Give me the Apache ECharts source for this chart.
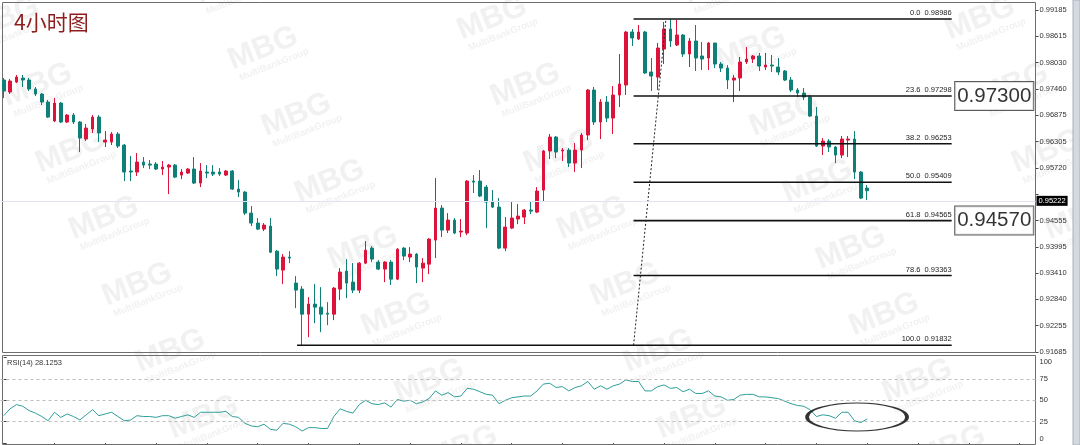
<!DOCTYPE html>
<html>
<head>
<meta charset="utf-8">
<script src="https://cdn.jsdelivr.net/npm/echarts@6/dist/echarts.min.js"></script>
<style>
html,body{margin:0;padding:0;background:#ffffff;}
#chart{width:1080px;height:445px;}
</style>
</head>
<body>
<div id="chart"></div>
<script>
// ---------- data ----------
const title = '4小时图';
const opens = [0.97649,0.97386,0.97605,0.97693,0.97649,0.97452,0.97342,0.97166,0.96750,0.97144,
0.96728,0.96881,0.96728,0.96355,0.96574,0.96837,0.96289,0.96289,0.96465,0.96223,
0.95653,0.95631,0.95850,0.95806,0.95806,0.95697,0.95740,0.95784,0.95565,0.95609,
0.95697,0.95390,0.95631,0.95631,0.95631,0.95565,0.95653,0.95258,0.95192,0.94731,
0.94512,0.94380,0.94446,0.93897,0.93481,0.93766,0.93196,0.93064,0.92515,0.92735,
0.92669,0.92537,0.92515,0.93064,0.93459,0.93218,0.93042,0.93634,0.93963,0.93656,
0.93503,0.93656,0.93283,0.93963,0.93766,0.93832,0.93525,0.93612,0.94139,0.94841,
0.94358,0.94578,0.94315,0.94293,0.95433,0.95433,0.95302,0.94973,0.94863,0.93963,
0.94402,0.94600,0.94643,0.94797,0.94753,0.95236,0.96092,0.96399,0.96092,0.96114,
0.95828,0.96114,0.96443,0.97430,0.96728,0.97166,0.96815,0.97320,0.97540,0.98702,
0.98549,0.98702,0.97825,0.97715,0.98329,0.98768,0.98417,0.98637,0.98220,0.98505,
0.98176,0.98132,0.98461,0.98000,0.97912,0.97649,0.97693,0.98044,0.98110,0.98176,
0.97934,0.97978,0.97934,0.97847,0.97649,0.97430,0.97364,0.97276,0.96859,0.96201,
0.96311,0.96180,0.96004,0.96333,0.96355,0.95631,0.95280];
const closes = [0.97408,0.97627,0.97715,0.97649,0.97452,0.97342,0.97166,0.96837,0.97144,0.96728,
0.96881,0.96728,0.96377,0.96596,0.96837,0.96487,0.96333,0.96465,0.96201,0.95631,
0.95631,0.95850,0.95784,0.95784,0.95697,0.95740,0.95784,0.95521,0.95631,0.95697,
0.95390,0.95653,0.95609,0.95587,0.95587,0.95653,0.95258,0.95192,0.94731,0.94512,
0.94380,0.94468,0.93875,0.93503,0.93766,0.93744,0.93042,0.92515,0.92735,0.92669,
0.92515,0.92515,0.93086,0.93437,0.93196,0.93042,0.93634,0.93919,0.93722,0.93503,
0.93656,0.93283,0.93941,0.93788,0.93832,0.93547,0.93634,0.94161,0.94841,0.94358,
0.94578,0.94293,0.94336,0.95433,0.95411,0.95104,0.94973,0.94863,0.93963,0.94424,
0.94622,0.94665,0.94797,0.94775,0.95214,0.96092,0.96399,0.96070,0.96114,0.95828,
0.96114,0.96443,0.97430,0.96728,0.97166,0.96815,0.97320,0.97562,0.98702,0.98571,
0.98702,0.97803,0.97737,0.98351,0.98768,0.98505,0.98637,0.98220,0.98505,0.98132,
0.98110,0.98461,0.98000,0.97912,0.97649,0.97693,0.98044,0.98110,0.98176,0.97956,
0.97978,0.97956,0.97825,0.97649,0.97430,0.97364,0.97276,0.96859,0.96201,0.96311,
0.96180,0.96004,0.96355,0.96355,0.95631,0.95060,0.95222];
const highs = [0.97693,0.97671,0.97759,0.97759,0.97693,0.97496,0.97364,0.97210,0.97254,0.97166,
0.96903,0.96925,0.96750,0.96684,0.96881,0.96881,0.96530,0.96508,0.96508,0.96245,
0.95982,0.96048,0.95960,0.95894,0.95850,0.95872,0.95806,0.95806,0.95697,0.95718,
0.95960,0.95828,0.95784,0.95784,0.95718,0.95675,0.95675,0.95455,0.95214,0.94885,
0.94622,0.94512,0.94622,0.93919,0.93832,0.93897,0.93349,0.93130,0.92888,0.93174,
0.93108,0.92778,0.93108,0.93525,0.93722,0.93634,0.93656,0.94117,0.94007,0.93700,
0.93678,0.93700,0.93963,0.93985,0.93985,0.93854,0.93744,0.94183,0.95499,0.94907,
0.94731,0.94622,0.94600,0.95455,0.95565,0.95675,0.95346,0.95236,0.95060,0.94643,
0.94973,0.94929,0.94819,0.94973,0.95302,0.96114,0.96465,0.96421,0.96158,0.96158,
0.96267,0.96487,0.97452,0.97496,0.97232,0.97298,0.97518,0.98220,0.98724,0.98768,
0.98856,0.98724,0.98132,0.98461,0.98922,0.98986,0.98966,0.98659,0.98571,0.98856,
0.98483,0.98483,0.98461,0.98044,0.97978,0.97759,0.98154,0.98373,0.98198,0.98242,
0.98242,0.98198,0.98132,0.97869,0.97715,0.97474,0.97474,0.97320,0.97057,0.96377,
0.96355,0.96201,0.96421,0.96421,0.96530,0.95653,0.95346];
const lows = [0.97254,0.97342,0.97583,0.97496,0.97408,0.97298,0.97101,0.96815,0.96728,0.96706,
0.96706,0.96684,0.96070,0.96311,0.96487,0.96289,0.96180,0.96223,0.96158,0.95433,
0.95433,0.95543,0.95718,0.95697,0.95675,0.95565,0.95148,0.95499,0.95477,0.95587,
0.95368,0.95302,0.95499,0.95543,0.95543,0.95543,0.95236,0.95082,0.94687,0.94446,
0.94358,0.94336,0.93853,0.93349,0.93174,0.93634,0.92647,0.91832,0.92011,0.92318,
0.92120,0.92274,0.92384,0.92822,0.92866,0.92976,0.92976,0.93612,0.93656,0.93481,
0.93218,0.93152,0.93261,0.93700,0.93656,0.93196,0.93218,0.93393,0.93744,0.94205,
0.94293,0.94271,0.94205,0.94249,0.95170,0.95082,0.94402,0.94841,0.93941,0.93897,
0.94380,0.94490,0.94490,0.94709,0.94731,0.94994,0.95916,0.95938,0.95872,0.95740,
0.95631,0.95718,0.96333,0.96662,0.96355,0.96728,0.96465,0.97057,0.97320,0.98395,
0.98527,0.97781,0.97408,0.97430,0.98000,0.98373,0.98395,0.98154,0.97934,0.97847,
0.97869,0.97869,0.97912,0.97825,0.97452,0.97166,0.97408,0.98000,0.98022,0.97847,
0.97869,0.97825,0.97759,0.97627,0.97386,0.97276,0.97210,0.96837,0.96180,0.96004,
0.96070,0.95828,0.95938,0.95960,0.95477,0.95038,0.95016];
const rsiValues = [32,40,45,43,38,35,31,26,36,30,
34,31,27,33,39,32,34,36,31,26,
27,32,31,31,30,32,32,29,31,33,
30,36,36,36,36,37,31,30,23,20,
19,22,16,15,23,22,19,14,18,18,
17,17,31,40,37,35,45,50,46,45,
47,42,51,49,50,46,48,52,61,56,
59,54,55,64,63,60,57,56,46,50,
53,54,55,55,61,69,70,65,66,61,
65,67,72,63,67,63,67,69,74,72,
72,61,61,66,68,64,65,60,63,58,
58,61,55,54,50,51,56,57,57,54,
54,53,52,49,46,44,43,39,31,33,
32,29,36,36,26,24,28.1253];
const totalSlots = 163;                       // bars + empty space on the right
const categories = Array.from({length: totalSlots}, (_, i) => String(i + 1));
const priceTickLabels = ['0.99185','0.98615','0.98030','0.97460','0.96875','0.96305','0.95720',
  '','0.94555','0.93995','0.93410','0.92840','0.92255','0.91685'];
const priceMin = 0.91685, priceMax = 0.99185;
const fibLevels = [0.0, 23.6, 38.2, 50.0, 61.8, 78.6, 100.0];
const fibPrices = [0.98986, 0.97298, 0.96253, 0.95409, 0.94565, 0.93363, 0.91832];
const fibStartBar = [99.2, 99.2, 99.2, 99.2, 99.2, 99.2, 46.2];
const fibEndBar = 149.3;
const trendFrom = [99.2, 0.91832], trendTo = [104.3, 0.98986];
const noteTexts = ['0.97300', '0.94570'];
const notePrices = [0.97300, 0.94570];
const noteBar = 156;
const currentPrice = 0.95222;
const rsiTitle = 'RSI(14) 28.1253';
const rsiLevels = [25, 50, 75];
const rsiMark = [134.4, 30.4];
const watermarkMain = 'MBG';
const watermarkSub = 'MultiBankGroup';

// ---------- chart ----------
const UP = '#dc143c', DOWN = '#0e8077';
const FONT = 'Liberation Sans';
const candleData = opens.map((o, i) => [o, closes[i], lows[i], highs[i]]);
const fibData = fibLevels.map((lv, i) => [fibStartBar[i], fibPrices[i], fibEndBar, lv]);

const chart = echarts.init(document.getElementById('chart'), null, {renderer: 'canvas', width: 1080, height: 445});

// faint diagonal brand watermark tiles (decoration)
const wm = [];
for (let k = 0; k < 5; k++) {
  const phase = (k % 2 === 0) ? 18 : 48;
  for (let y = phase - 66; y < 470; y += 66.5) {
    const x = -5 + 244 * k + y / 2;
    if (x < -40 || x > 1100) continue;
    wm.push({type: 'group', x: x, y: y, rotation: 0.38, silent: true, z: 20, children: [
      {type: 'text', style: {text: watermarkMain, x: 0, y: 0, align: 'center', verticalAlign: 'middle',
        font: 'bold 31px "Liberation Sans"', fill: 'rgba(210,210,210,0.32)'}},
      {type: 'text', style: {text: watermarkSub, x: 4, y: 19, align: 'center', verticalAlign: 'middle',
        font: 'bold 9.5px "Liberation Sans"', fill: 'rgba(210,210,210,0.32)'}}
    ]});
  }
}

const gridL = 0.5, gridW = 1035;
const option = {
  animation: false,
  backgroundColor: '#ffffff',
  textStyle: {fontFamily: FONT},
  grid: [
    {left: gridL, top: 10, width: gridW, height: 342},
    {left: gridL, top: 357.6, width: gridW, height: 85.4}
  ],
  xAxis: [
    {type: 'category', gridIndex: 0, data: categories, boundaryGap: true, show: false},
    {type: 'value', gridIndex: 0, min: -0.5, max: totalSlots - 0.5, show: false},
    {type: 'category', gridIndex: 1, data: categories, boundaryGap: true,
      axisLine: {show: false}, axisLabel: {show: false}, splitLine: {show: false},
      axisTick: {show: true, alignWithLabel: true, interval: 7, length: 3, lineStyle: {color: '#555'}}},
    {type: 'value', gridIndex: 1, min: -0.5, max: totalSlots - 0.5, show: false}
  ],
  yAxis: [
    {type: 'value', gridIndex: 0, min: priceMin, max: priceMax, show: false, scale: true},
    {type: 'value', gridIndex: 0, position: 'right', min: 0, max: priceTickLabels.length - 1, interval: 1,
      axisLine: {show: false}, splitLine: {show: false},
      axisTick: {show: true, length: 3, lineStyle: {color: '#444'}},
      axisLabel: {show: true, margin: 4, fontSize: 7.5, color: '#333', fontFamily: FONT,
        formatter: v => priceTickLabels[priceTickLabels.length - 1 - v] || ''}},
    {type: 'value', gridIndex: 1, position: 'right', min: 0, max: 100, interval: 25,
      axisLine: {show: false}, splitLine: {show: false},
      axisTick: {show: true, length: 3, lineStyle: {color: '#444'}},
      axisLabel: {show: true, margin: 4, fontSize: 7.5, color: '#333', fontFamily: FONT,
        verticalAlignMaxLabel: 'top', verticalAlignMinLabel: 'bottom'}}
  ],
  series: [
    {
      type: 'candlestick', xAxisIndex: 0, yAxisIndex: 0, data: candleData, barWidth: 3.2,
      itemStyle: {color: UP, color0: DOWN, borderColor: UP, borderColor0: DOWN, borderWidth: 1},
      z: 3,
      markLine: {
        silent: true, symbol: 'none', animation: false,
        lineStyle: {color: '#e2e2f6', width: 1, type: 'solid'},
        label: {show: true, position: 'end', distance: 1, formatter: () => currentPrice.toFixed(5),
          backgroundColor: '#000', color: '#fff', fontSize: 7.5, padding: [1, 2, 1, 2], fontFamily: FONT},
        data: [{yAxis: currentPrice}]
      }
    },
    {
      type: 'custom', xAxisIndex: 1, yAxisIndex: 0, data: fibData, z: 4, clip: false,
      encode: {x: [0, 2], y: 1},
      renderItem: (params, api) => {
        const p1 = api.coord([api.value(0), api.value(1)]);
        const p2 = api.coord([api.value(2), api.value(1)]);
        const lv = api.value(3);
        return {type: 'group', children: [
          {type: 'line', shape: {x1: p1[0], y1: p1[1], x2: p2[0], y2: p2[1]},
            style: {stroke: '#111', lineWidth: 1.6}},
          {type: 'text', x: p2[0], y: p1[1] - 2,
            style: {text: lv.toFixed(1) + '  ' + api.value(1).toFixed(5), align: 'right', verticalAlign: 'bottom',
              fill: '#222', font: '7.5px "Liberation Sans"'}}
        ]};
      }
    },
    {
      type: 'line', xAxisIndex: 1, yAxisIndex: 0, data: [trendFrom, trendTo], symbol: 'none', z: 4,
      lineStyle: {color: '#222', width: 1, type: [2, 2]}
    },
    {
      type: 'scatter', xAxisIndex: 1, yAxisIndex: 0, symbolSize: 0, z: 6,
      data: notePrices.map((p, i) => ({value: [noteBar, p], name: noteTexts[i]})),
      label: {show: true, position: 'inside', formatter: p => p.name, color: '#000',
        fontSize: 20.5, fontFamily: 'Liberation Sans', backgroundColor: '#fff',
        borderColor: '#333', borderWidth: 1, padding: [4, 2, 2, 2], lineHeight: 22}
    },
    {
      type: 'line', xAxisIndex: 2, yAxisIndex: 2, data: rsiValues, symbol: 'none', z: 3,
      lineStyle: {color: '#2f9f9a', width: 1},
      markLine: {silent: true, symbol: 'none', animation: false, label: {show: false},
        lineStyle: {color: '#bdbdbd', width: 1, type: [3, 3]},
        data: rsiLevels.map(v => ({yAxis: v}))}
    },
    {
      type: 'scatter', xAxisIndex: 3, yAxisIndex: 2, data: [rsiMark], symbol: 'circle',
      symbolSize: [100, 28], z: 5,
      itemStyle: {color: 'rgba(0,0,0,0)', borderColor: '#000', borderWidth: 2}
    }
  ],
  graphic: [
    {type: 'rect', silent: true, z: 1, shape: {x: 2.5, y: 2.5, width: 1033, height: 350},
      style: {fill: 'none', stroke: '#6e6e6e', lineWidth: 1}},
    {type: 'rect', silent: true, z: 1, shape: {x: 2.5, y: 355.5, width: 1033, height: 89},
      style: {fill: 'none', stroke: '#6e6e6e', lineWidth: 1}},
    {type: 'rect', silent: true, z: 1, shape: {x: 1073, y: 0, width: 7, height: 445},
      style: {fill: '#d3d9e0', stroke: '#a9b1ba', lineWidth: 1}},
    ...wm,
    {type: 'text', silent: true, z: 30, x: 14, y: 22,
      style: {text: title, fill: '#8e1d1d', font: '21px "Noto Sans CJK SC"', verticalAlign: 'middle'}},
    {type: 'text', silent: true, z: 30, x: 7, y: 363,
      style: {text: rsiTitle, fill: '#333', font: '7.5px "Liberation Sans"', verticalAlign: 'middle'}}
  ]
};
chart.setOption(option);
</script>
</body>
</html>
